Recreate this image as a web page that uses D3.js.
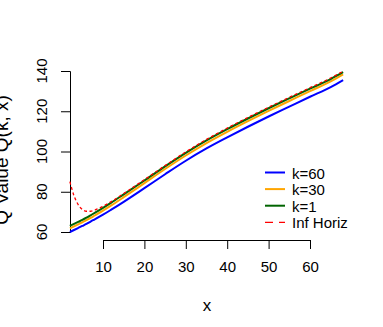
<!DOCTYPE html>
<html>
<head>
<meta charset="utf-8">
<script src="https://cdn.jsdelivr.net/npm/d3@7"></script>
<style>
  body { margin: 0; background: #fff; }
  svg { display: block; font-family: "Liberation Sans", Arial, sans-serif; }
</style>
</head>
<body>
<div id="chart"></div>
<script>
"use strict";

const xVals = [2, 3, 4, 5, 6, 7, 8, 10, 12, 15, 20, 25, 30, 35, 40, 45, 50, 55, 60, 65, 68];

const qK60 = [60, 61, 62, 63, 64, 65.2, 66.3, 68.6, 71.1, 75, 81.8, 88.7, 95.4, 101.5, 107, 112.3, 117.4, 122.3, 127.2, 132, 135.5];
const qK30 = [61.8, 62.8, 63.8, 64.8, 65.9, 67, 68.2, 70.6, 73.2, 77.3, 84.3, 91.3, 98, 104.2, 109.8, 115.1, 120.2, 125.1, 130, 134.8, 138.3];
const qK1 = [63, 64, 65, 66, 67.1, 68.3, 69.5, 72, 74.6, 78.7, 85.6, 92.6, 99.3, 105.5, 111.1, 116.4, 121.5, 126.4, 131.2, 136, 139.4];
const qInf = [85, 78, 73.6, 71.2, 70.3, 70.3, 70.9, 72.8, 75.1, 79.1, 86, 93, 99.8, 106, 111.6, 116.9, 122, 126.9, 131.7, 136.5, 139.9];

const seriesNames = ["k=60", "k=30", "k=1", "Inf Horiz"];
const seriesColors = ["#0000ff", "#ffa500", "#006400", "#ff0000"];
const xTicks = [10, 20, 30, 40, 50, 60];
const yTicks = [60, 80, 100, 120, 140];

const width = 383, height = 327;

const svg = d3.select("#chart")
    .append("svg")
    .attr("width", width)
    .attr("height", height);

const x = d3.scaleLinear().domain([0, 70]).range([61.6, 351.4]);
const y = d3.scaleLinear().domain([60, 140]).range([232, 71]);

// x axis: line only between first and last tick, like R
const xAxisScale = d3.scaleLinear().domain([10, 60]).range([x(10), x(60)]);
const gx = svg.append("g")
    .attr("transform", "translate(0,240)")
    .call(d3.axisBottom(xAxisScale).tickValues(xTicks).tickSizeOuter(0).tickSize(9).tickPadding(12));
gx.selectAll("text").attr("font-size", 15).attr("fill", "#000").attr("font-family", null);
gx.selectAll("line, path").attr("stroke", "#000");

// y axis, labels rotated like R's las=0
const yAxisScale = d3.scaleLinear().domain([60, 140]).range([y(60), y(140)]);
const gy = svg.append("g")
    .attr("transform", "translate(70,0)")
    .call(d3.axisLeft(yAxisScale).tickValues(yTicks).tickSizeOuter(0).tickSize(9).tickFormat(() => ""));
gy.selectAll("line, path").attr("stroke", "#000");

svg.append("g").selectAll("text")
    .data(yTicks)
    .join("text")
    .attr("transform", d => "translate(47," + y(d) + ") rotate(-90)")
    .attr("text-anchor", "middle")
    .attr("font-size", 15)
    .text(d => d);

// axis titles
svg.append("text")
    .attr("x", 207)
    .attr("y", 311)
    .attr("text-anchor", "middle")
    .attr("font-size", 17)
    .text("x");

svg.append("text")
    .attr("transform", "translate(8,160) rotate(-90)")
    .attr("text-anchor", "middle")
    .attr("font-size", 19)
    .text("Q Value Q(k, x)");

// the curves
const seriesData = [qK60, qK30, qK1, qInf];
const line = d3.line()
    .x((d, i) => x(xVals[i]))
    .y(d => y(d))
    .curve(d3.curveMonotoneX);

seriesData.forEach((vals, i) => {
    svg.append("path")
        .datum(vals)
        .attr("fill", "none")
        .attr("stroke", seriesColors[i])
        .attr("stroke-width", i === 3 ? 1.3 : 2)
        .attr("stroke-dasharray", i === 3 ? "3,2.5" : null)
        .attr("d", line);
});

// legend
const legend = svg.append("g");
seriesNames.forEach((name, i) => {
    const ly = 173 + i * 16.6;
    legend.append("line")
        .attr("x1", 265).attr("x2", 285)
        .attr("y1", ly - 0.5).attr("y2", ly - 0.5)
        .attr("stroke", seriesColors[i])
        .attr("stroke-width", i === 3 ? 1.3 : 2)
        .attr("stroke-dasharray", i === 3 ? "8,6" : null);
    legend.append("text")
        .attr("x", 292)
        .attr("y", ly + 5.5)
        .attr("font-size", 15)
        .text(name);
});
</script>
</body>
</html>
